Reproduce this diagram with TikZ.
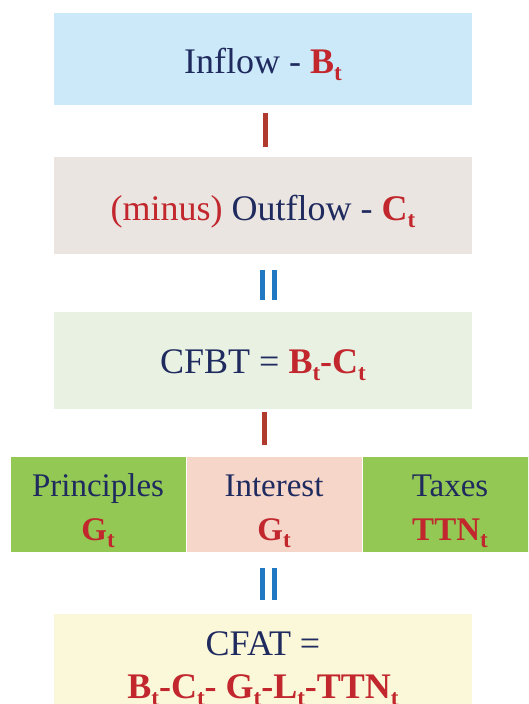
\documentclass[tikz,border=0pt]{standalone}
\usepackage{fontspec}
\setmainfont{Liberation Serif}
\usetikzlibrary{calc}
\definecolor{ccebfa}{HTML}{CCE9F9}
\definecolor{eae5e0}{HTML}{EAE5E0}
\definecolor{e9f1e3}{HTML}{E9F1E3}
\definecolor{92c853}{HTML}{92C853}
\definecolor{f7d6ca}{HTML}{F7D6CA}
\definecolor{fbf7d9}{HTML}{FBF7D9}
\definecolor{navytxt}{HTML}{1F2A5E}
\definecolor{redtxt}{HTML}{C1272D}
\definecolor{redbar}{HTML}{B03A2E}
\definecolor{bluebar}{HTML}{1F78C1}
\newcommand{\tsub}[1]{{\bfseries #1}\raisebox{-7pt}{\fontsize{23}{23}\selectfont\bfseries t}}
\tikzset{
  box/.style={minimum width=418pt,minimum height=97pt,inner sep=0pt,text=navytxt,
    font=\fontsize{36}{43}\selectfont,align=center,text height=30pt,text depth=2pt},
  cell/.style={draw=white,line width=1pt,minimum width=176pt,minimum height=96pt,inner sep=0pt,
    text=navytxt,font=\fontsize{33}{44}\selectfont,align=center,text height=74pt,text depth=2pt},
  redline/.style={line width=5pt,color=redbar},
  blueline/.style={line width=5pt,color=bluebar}
}

\begin{document}
\begin{tikzpicture}[line cap=butt,x=1pt,y=1pt]
            \useasboundingbox (0,0) rectangle (528,-704);
            \clip (0,0) rectangle (528,-704);
            \fill[white] (0,0) rectangle (528,-704);
            \node[box,fill=ccebfa,minimum height=92pt] (inflow) at (263,-59) {Inflow - \textcolor{redtxt}{\tsub{B}}};
            \node[box,fill=eae5e0,text height=31pt] (outflow) at (263,-205.5) {\textcolor{redtxt}{(minus)} Outflow - \textcolor{redtxt}{\tsub{C}}};
            \node[box,fill=e9f1e3,text height=27pt] (cfbt) at (263,-360.5) {CFBT = \textcolor{redtxt}{\tsub{B}\textbf{-}\tsub{C}}};
            \node[cell,fill=92c853] (princ) at (98,-504) {Principles\\\textcolor{redtxt}{\tsub{G}}};
            \node[cell,fill=f7d6ca] (inter) at (274,-504) {Interest\\\textcolor{redtxt}{\tsub{G}}};
            \node[cell,fill=92c853] (taxes) at (450,-504) {Taxes\\\textcolor{redtxt}{\tsub{TTN}}};
            \node[box,fill=fbf7d9,minimum height=98pt,text height=72pt] (cfat) at (263,-663) {CFAT =\\\textcolor{redtxt}{\tsub{B}\textbf{-}\tsub{C}\textbf{- }\tsub{G}\textbf{-}\tsub{L}\textbf{-}\tsub{TTN}}};
            % connecting bars
            \draw[redline,shorten <=8pt,shorten >=10pt] ([xshift=2.5pt]inflow.south) -- ([xshift=2.5pt]outflow.north);
            \draw[blueline,shorten <=16pt,shorten >=12pt] ([xshift=-0.5pt]outflow.south) -- ([xshift=-0.5pt]cfbt.north);
            \draw[blueline,shorten <=16pt,shorten >=12pt] ([xshift=11.5pt]outflow.south) -- ([xshift=11.5pt]cfbt.north);
            \draw[redline,shorten <=3pt,shorten >=11pt] ([xshift=1pt]cfbt.south) -- ([xshift=1pt]cfbt.south |- inter.north);
            \draw[blueline,shorten <=15pt,shorten >=14pt] ([xshift=-0.5pt]cfbt.south |- inter.south) -- ([xshift=-0.5pt]cfat.north);
            \draw[blueline,shorten <=15pt,shorten >=14pt] ([xshift=11.5pt]cfbt.south |- inter.south) -- ([xshift=11.5pt]cfat.north);
\end{tikzpicture}
\end{document}
